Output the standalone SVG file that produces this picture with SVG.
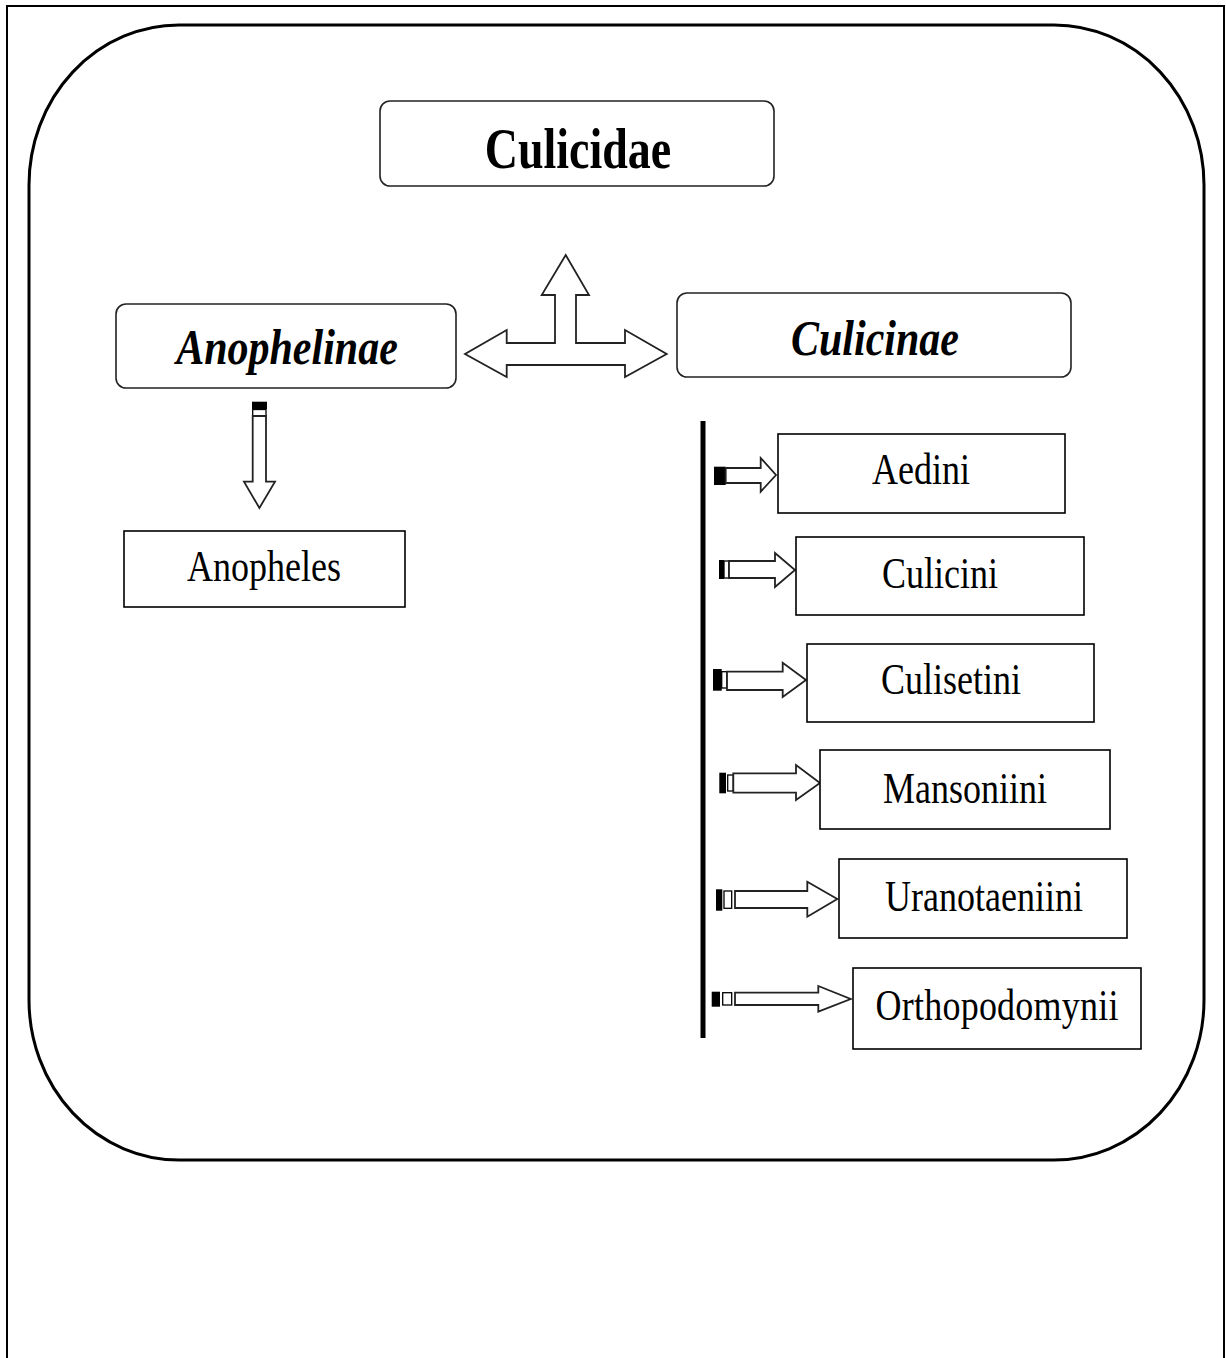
<svg xmlns="http://www.w3.org/2000/svg" width="1226" height="1358" viewBox="0 0 1226 1358">
<style>
.frame{fill:none;stroke:#000;stroke-width:2}
.outer{fill:none;stroke:#000;stroke-width:3}
.rbox{fill:#fff;stroke:#222;stroke-width:1.6}
.box{fill:#fff;stroke:#000;stroke-width:1.6}
.arrow{fill:#fff;stroke:#222;stroke-width:1.8;stroke-linejoin:miter}
.blk{fill:#000}
.wsm{fill:#fff;stroke:#000;stroke-width:1.3}
.t{font-family:"Liberation Serif","Times New Roman",serif;fill:#000;text-anchor:middle}
.big{font-size:46px;font-weight:bold}
.bi{font-size:42px;font-weight:bold;font-style:italic}
.reg{font-size:36px}
</style>
<rect class="frame" x="7" y="6" width="1217" height="1362"/>
<rect class="outer" x="29" y="25" width="1175" height="1135" rx="150" ry="160"/>

<g id="connectors">
  <path id="tri-arrow" class="arrow" d="M565.7,255 L589,295 L576,295 L576,343 L625,343 L625,330 L666.7,354 L625,377 L625,365 L506.7,365 L506.7,377 L465,354 L506.7,330 L506.7,343 L555,343 L555,295 L541.7,295 Z"/>
  <g id="arrow-anopheles">
    <rect class="blk" x="252" y="401.7" width="15" height="7.3"/>
    <rect class="wsm" x="252.7" y="409.5" width="13.3" height="6.5"/>
    <path class="arrow" d="M252.7,416 L266,416 L266,481.7 L275,481.7 L259.4,508 L244,481.7 L252.7,481.7 Z"/>
  </g>
  <rect id="culicinae-bar" class="blk" x="700.5" y="421" width="5" height="617"/>
  <g id="arrow-aedini">
    <rect class="blk" x="714" y="466.7" width="11.7" height="18.3"/>
    <path class="arrow" d="M725.7,468 L760.7,468 L760.7,458 L776,475 L760.7,491.7 L760.7,483 L725.7,483 Z"/>
  </g>
  <g id="arrow-culicini">
    <rect class="blk" x="719" y="560" width="5" height="19"/>
    <rect class="wsm" x="724" y="561" width="5" height="17"/>
    <path class="arrow" d="M729,561 L775,561 L775,553 L795,570 L775,587 L775,578 L729,578 Z"/>
  </g>
  <g id="arrow-culisetini">
    <rect class="blk" x="713" y="669" width="8.7" height="21.7"/>
    <rect class="wsm" x="721.7" y="671.7" width="5.3" height="16.3"/>
    <path class="arrow" d="M727,671.7 L782.7,671.7 L782.7,662.7 L806,680 L782.7,697 L782.7,690 L727,690 Z"/>
  </g>
  <g id="arrow-mansoniini">
    <rect class="blk" x="719.3" y="772.7" width="6.7" height="20.6"/>
    <rect class="wsm" x="727.7" y="775" width="5.6" height="16"/>
    <path class="arrow" d="M733.3,773.3 L796,773.3 L796,765 L820,783 L796,800 L796,792.7 L733.3,792.7 Z"/>
  </g>
  <g id="arrow-uranotaeniini">
    <rect class="blk" x="716" y="889.3" width="6.3" height="21.4"/>
    <rect class="wsm" x="724" y="891" width="7.7" height="17.3"/>
    <path class="arrow" d="M735,891 L807.3,891 L807.3,881.7 L837.3,899 L807.3,916.7 L807.3,908 L735,908 Z"/>
  </g>
  <g id="arrow-orthopodomynii">
    <rect class="blk" x="711.7" y="991.7" width="8.3" height="15"/>
    <rect class="wsm" x="722.7" y="992.7" width="9" height="12.3"/>
    <path class="arrow" d="M735,992.7 L818.3,992.7 L818.3,986 L850.7,999 L818.3,1011.7 L818.3,1005 L735,1005 Z"/>
  </g>
</g>

<g id="node-culicidae">
  <rect class="rbox" x="380" y="101" width="394" height="85" rx="10"/>
  <text class="t big" transform="translate(578,168) scale(1,1.25)">Culicidae</text>
</g>
<g id="node-anophelinae">
  <rect class="rbox" x="116" y="304" width="340" height="84" rx="10"/>
  <text class="t bi" transform="translate(287,364) scale(1,1.2)">Anophelinae</text>
</g>
<g id="node-culicinae">
  <rect class="rbox" x="677" y="293" width="394" height="84" rx="10"/>
  <text class="t bi" transform="translate(875,355) scale(1,1.2)">Culicinae</text>
</g>
<g id="node-anopheles">
  <rect class="box" x="124" y="531" width="281" height="76"/>
  <text class="t reg" transform="translate(264,581) scale(1,1.22)">Anopheles</text>
</g>
<g id="node-aedini">
  <rect class="box" x="778" y="434" width="287" height="79"/>
  <text class="t reg" transform="translate(921,484) scale(1,1.22)">Aedini</text>
</g>
<g id="node-culicini">
  <rect class="box" x="796" y="537" width="288" height="78"/>
  <text class="t reg" transform="translate(940,588) scale(1,1.22)">Culicini</text>
</g>
<g id="node-culisetini">
  <rect class="box" x="807" y="644" width="287" height="78"/>
  <text class="t reg" transform="translate(951,694) scale(1,1.22)">Culisetini</text>
</g>
<g id="node-mansoniini">
  <rect class="box" x="820" y="750" width="290" height="79"/>
  <text class="t reg" transform="translate(965,803) scale(1,1.22)">Mansoniini</text>
</g>
<g id="node-uranotaeniini">
  <rect class="box" x="839" y="859" width="288" height="79"/>
  <text class="t reg" transform="translate(984,911) scale(1,1.22)">Uranotaeniini</text>
</g>
<g id="node-orthopodomynii">
  <rect class="box" x="853" y="968" width="288" height="81"/>
  <text class="t reg" transform="translate(997,1020) scale(1,1.22)" textLength="243">Orthopodomynii</text>
</g>
</svg>
